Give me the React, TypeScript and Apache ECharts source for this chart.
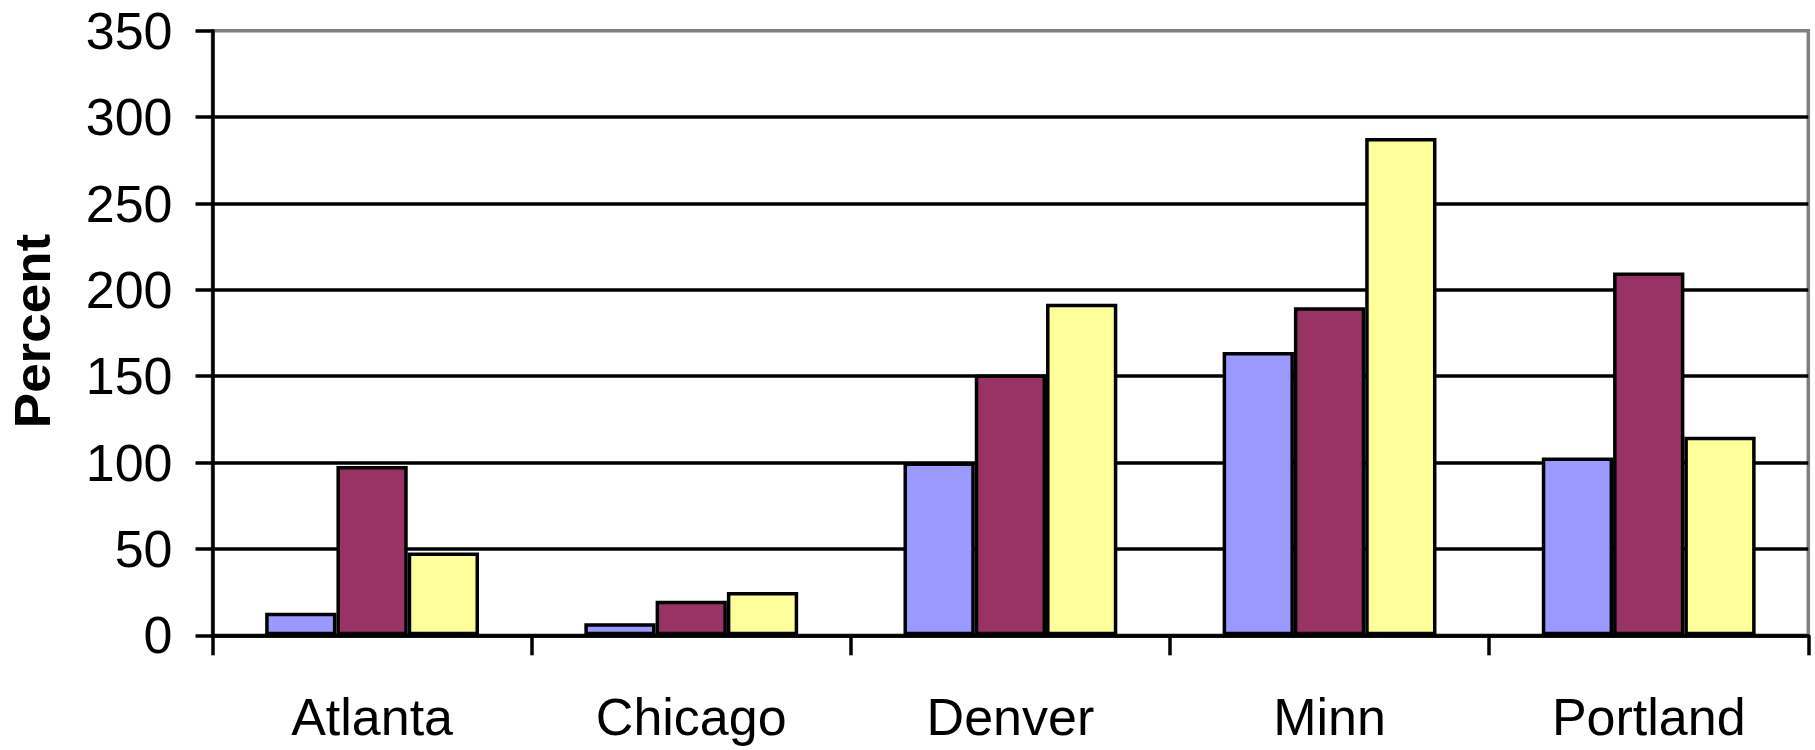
import React, { useEffect, useRef } from "react";
import * as echarts from "echarts";

const categories = ["Atlanta", "Chicago", "Denver", "Minn", "Portland"];
const seriesBlue = [13, 7, 100, 164, 103];
const seriesPurple = [98, 20, 151, 190, 210];
const seriesYellow = [48, 25, 192, 288, 115];
const yMin = 0;
const yMax = 350;
const yInterval = 50;
const yAxisTitle = "Percent";

const FONT = "'Liberation Sans', Arial, sans-serif";

export default function App() {
  const ref = useRef<HTMLDivElement>(null);
  useEffect(() => {
    if (!ref.current) return;
    const chart = echarts.init(ref.current, undefined, { renderer: "svg" });
    const barStyle = (color: string) => ({
      color,
      borderColor: "#000000",
      borderWidth: 3.5,
    });
    chart.setOption({
      animation: false,
      backgroundColor: "#ffffff",
      grid: {
        left: 212.5,
        top: 30.8,
        width: 1595.8,
        height: 604.5,
        show: true,
        borderColor: "#808080",
        borderWidth: 3.5,
        backgroundColor: "transparent",
      },
      xAxis: {
        type: "category",
        data: categories,
        axisLine: { show: true, lineStyle: { color: "#000", width: 3.5 } },
        axisTick: { show: true, length: 20, alignWithLabel: false, lineStyle: { color: "#000", width: 3.5 } },
        axisLabel: { color: "#000", fontSize: 52, fontFamily: FONT, margin: 56 },
        splitLine: { show: false },
      },
      yAxis: {
        type: "value",
        min: yMin,
        max: yMax,
        interval: yInterval,
        axisLine: { show: true, lineStyle: { color: "#000", width: 3.5 } },
        axisTick: { show: true, length: 17, lineStyle: { color: "#000", width: 3.5 } },
        axisLabel: { color: "#000", fontSize: 52, fontFamily: FONT, margin: 40 },
        splitLine: { show: true, showMaxLine: false, lineStyle: { color: "#000", width: 3.5 } },
      },
      series: [
        { name: "Series 1", type: "bar", data: seriesBlue, barGap: "0%", barCategoryGap: "33%", itemStyle: barStyle("#9999FF") },
        { name: "Series 2", type: "bar", data: seriesPurple, barGap: "0%", barCategoryGap: "33%", itemStyle: barStyle("#993366") },
        { name: "Series 3", type: "bar", data: seriesYellow, barGap: "0%", barCategoryGap: "33%", itemStyle: barStyle("#FFFF99") },
      ],
      graphic: [
        {
          type: "text",
          x: 33,
          y: 331,
          rotation: Math.PI / 2,
          scaleX: 1.06,
          style: {
            text: yAxisTitle,
            font: `bold 50px ${FONT}`,
            fill: "#000",
            textAlign: "center",
            textVerticalAlign: "middle",
          },
        },
      ],
    });
    return () => chart.dispose();
  }, []);
  return (
    <div
      ref={ref}
      style={{ position: "absolute", left: 0, top: 0, width: 1815, height: 750 }}
    />
  );
}
